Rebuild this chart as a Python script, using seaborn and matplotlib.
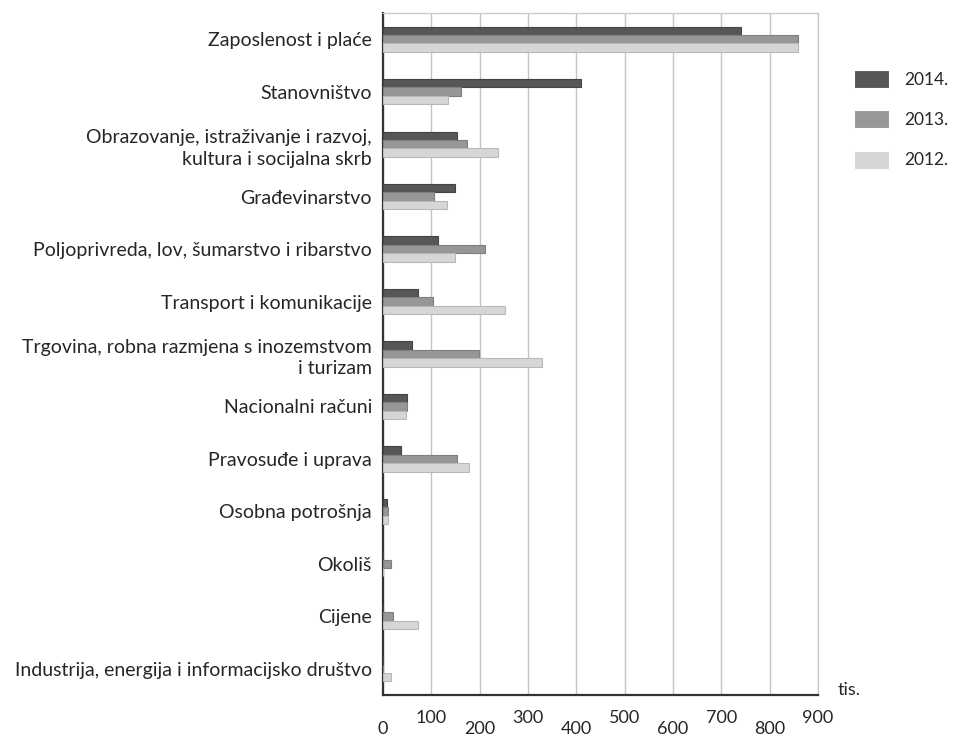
import matplotlib
matplotlib.use("Agg")
import matplotlib.pyplot as plt
import seaborn as sns
import pandas as pd

categories = [
    "Zaposlenost i plaće",
    "Stanovništvo",
    "Obrazovanje, istraživanje i razvoj,\nkultura i socijalna skrb",
    "Građevinarstvo",
    "Poljoprivreda, lov, šumarstvo i ribarstvo",
    "Transport i komunikacije",
    "Trgovina, robna razmjena s inozemstvom\ni turizam",
    "Nacionalni računi",
    "Pravosuđe i uprava",
    "Osobna potrošnja",
    "Okoliš",
    "Cijene",
    "Industrija, energija i informacijsko društvo",
]
years = ["2014.", "2013.", "2012."]
v2014 = [741, 410, 154, 148, 113, 72, 61, 49, 37, 8, 0, 0, 0]
v2013 = [859, 162, 174, 105, 212, 104, 198, 49, 154, 10, 16, 21, 0]
v2012 = [859, 134, 237, 133, 148, 252, 328, 48, 178, 10, 0, 72, 16]
xticks_even = [0, 200, 400, 600, 800]
xticks_odd = [100, 300, 500, 700, 900]
unit_label = "tis."

colors = ["#575757", "#979797", "#d6d6d6"]
edges = ["#444444", "#7f7f7f", "#b8b8b8"]

rows = []
for yr, vals in zip(years, [v2014, v2013, v2012]):
    for c, v in zip(categories, vals):
        rows.append({"kategorija": c, "godina": yr, "vrijednost": v})
df = pd.DataFrame(rows)

sns.set_theme(style="white")
plt.rcParams["font.family"] = ["Lato", "DejaVu Sans"]
text_color = "#262626"

fig = plt.figure(figsize=(9.54, 7.38), dpi=100)
ax = fig.add_axes([383/954, 1-695/738, (818-383)/954, (695-13)/738])

sns.barplot(data=df, y="kategorija", x="vrijednost", hue="godina",
            order=categories, hue_order=years, palette=colors,
            orient="h", width=0.48, ax=ax, linewidth=0.8, zorder=3)
for cont, ec in zip(ax.containers, edges):
    for p in cont:
        p.set_edgecolor(ec)

ax.set_xlim(0, 900)
ax.set_ylim(len(categories) - 0.5, -0.5)
ax.set_xticks(xticks_even)
ax.set_xticks(xticks_odd, minor=True)
ax.set_xticklabels([str(t) for t in xticks_even])
ax.set_xticklabels([str(t) for t in xticks_odd], minor=True)
ax.tick_params(axis="x", which="major", length=0, pad=19, labelsize=13, labelcolor=text_color)
ax.tick_params(axis="x", which="minor", length=0, pad=11, labelsize=13, labelcolor=text_color)
ax.tick_params(axis="y", length=0, pad=8, labelsize=14, labelcolor=text_color)
for lab in ax.get_yticklabels():
    lab.set_horizontalalignment("right")
    lab.set_multialignment("right")
    lab.set_linespacing(1.35)
ax.grid(axis="x", which="both", color="#c4c4c4", linewidth=1, zorder=0)
ax.set_axisbelow(True)
ax.set_xlabel("")
ax.set_ylabel("")
for s in ["left", "bottom"]:
    ax.spines[s].set_color("#333333")
    ax.spines[s].set_linewidth(1.6)
for s in ["top", "right"]:
    ax.spines[s].set_color("#cccccc")
    ax.spines[s].set_linewidth(1)

ax.text(838/954, 1-690/738, unit_label, transform=fig.transFigure,
        fontsize=13, color=text_color, ha="left", va="center")

handles, labels = ax.get_legend_handles_labels()
ax.legend(handles, labels, loc="upper left", bbox_to_anchor=(854/954, 1-70/738),
          bbox_transform=fig.transFigure, frameon=False, fontsize=12.5,
          handlelength=2.0, handleheight=1.2, labelspacing=1.3,
          handletextpad=0.9, borderpad=0, borderaxespad=0, labelcolor=text_color)

fig.savefig("out.png", dpi=100)
